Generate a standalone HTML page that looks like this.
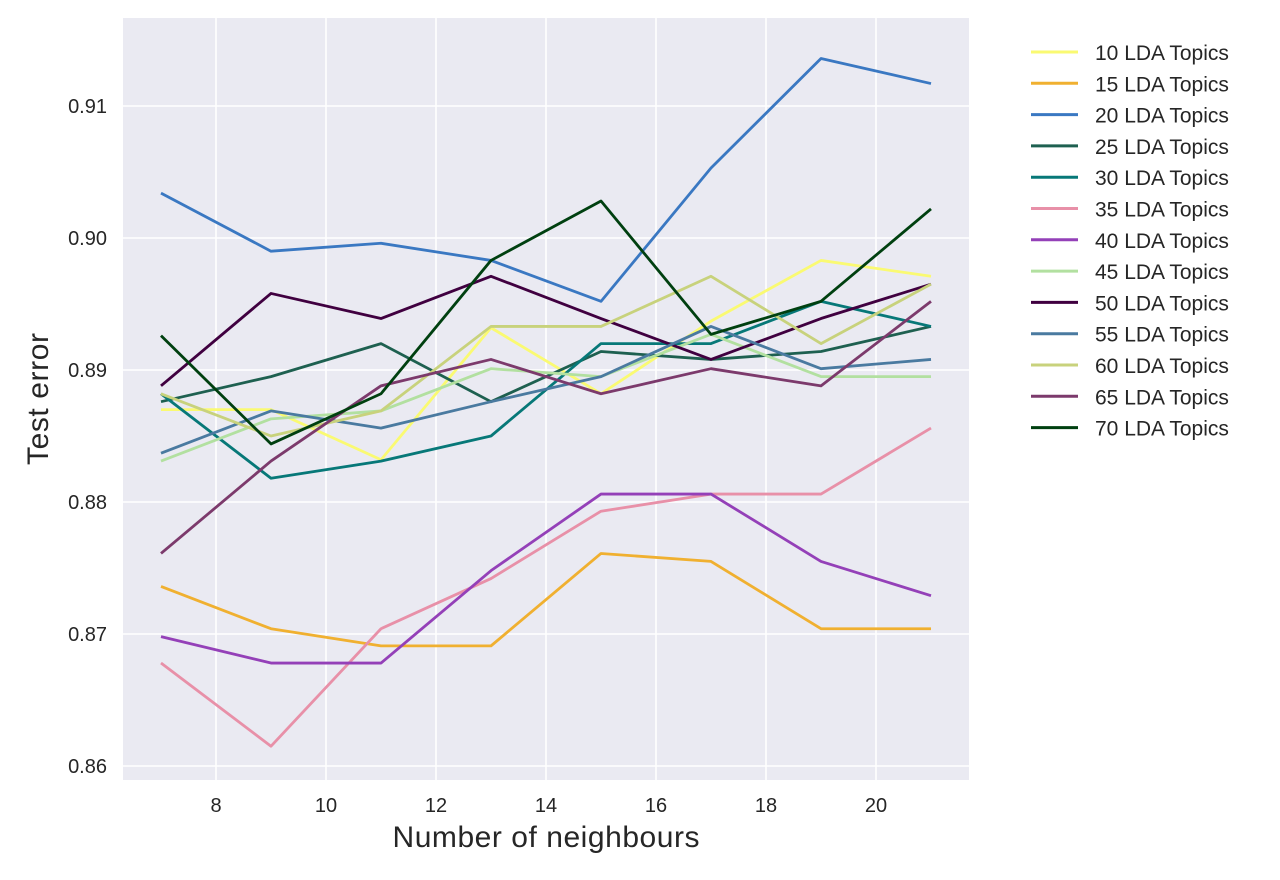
<!DOCTYPE html>
<html><head><meta charset="utf-8"><style>
body{margin:0;background:#fff;font-family:"Liberation Sans",sans-serif;}
svg{display:block}
</style></head><body>
<svg id="chart" width="1280" height="880" xmlns="http://www.w3.org/2000/svg">
<rect x="123" y="18" width="846" height="762" fill="#eaeaf2"/>
<g id="grid"></g><g id="lines"></g><g id="ticks"></g><g id="legend"></g>
<text x="546" y="847" text-anchor="middle" font-size="30" textLength="307" fill="#262626">Number of neighbours</text>
<text x="48" y="399" text-anchor="middle" font-size="30" textLength="132" fill="#262626" transform="rotate(-90 48 399)">Test error</text>
</svg>
<script>
const xValues=[7,9,11,13,15,17,19,21];
const xTicks=[8,10,12,14,16,18,20];
const yTicks=[0.86,0.87,0.88,0.89,0.90,0.91];
const yTickLabels=["0.86","0.87","0.88","0.89","0.90","0.91"];
const seriesNames=["10 LDA Topics","15 LDA Topics","20 LDA Topics","25 LDA Topics","30 LDA Topics","35 LDA Topics","40 LDA Topics","45 LDA Topics","50 LDA Topics","55 LDA Topics","60 LDA Topics","65 LDA Topics","70 LDA Topics"];
const seriesColors=["#fafa72","#f0b030","#3a78c2","#1e6050","#077878","#e890a8","#9440b8","#b2e0a0","#400040","#4a7aa0","#c8d27c","#7c3a6c","#004010"];
const s10=[0.8870,0.8870,0.8832,0.8932,0.8882,0.8937,0.8983,0.8971];
const s15=[0.8736,0.8704,0.8691,0.8691,0.8761,0.8755,0.8704,0.8704];
const s20=[0.9034,0.8990,0.8996,0.8983,0.8952,0.9053,0.9136,0.9117];
const s25=[0.8876,0.8895,0.8920,0.8876,0.8914,0.8908,0.8914,0.8933];
const s30=[0.8882,0.8818,0.8831,0.8850,0.8920,0.8920,0.8952,0.8933];
const s35=[0.8678,0.8615,0.8704,0.8742,0.8793,0.8806,0.8806,0.8856];
const s40=[0.8698,0.8678,0.8678,0.8748,0.8806,0.8806,0.8755,0.8729];
const s45=[0.8831,0.8863,0.8869,0.8901,0.8895,0.8927,0.8895,0.8895];
const s50=[0.8888,0.8958,0.8939,0.8971,0.8939,0.8908,0.8939,0.8965];
const s55=[0.8837,0.8869,0.8856,0.8876,0.8895,0.8933,0.8901,0.8908];
const s60=[0.8882,0.8850,0.8869,0.8933,0.8933,0.8971,0.8920,0.8965];
const s65=[0.8761,0.8831,0.8888,0.8908,0.8882,0.8901,0.8888,0.8952];
const s70=[0.8926,0.8844,0.8882,0.8983,0.9028,0.8927,0.8952,0.9022];
const allSeries=[s10,s15,s20,s25,s30,s35,s40,s45,s50,s55,s60,s65,s70];
const NS="http://www.w3.org/2000/svg";
const xs=v=>216+(v-8)*55;
const ys=v=>766-(v-0.86)*13200;
function mk(tag,attrs,parent){const e=document.createElementNS(NS,tag);for(const k in attrs)e.setAttribute(k,attrs[k]);document.getElementById(parent).appendChild(e);return e;}
xTicks.forEach(t=>{
  const l=mk('line',{x1:xs(t),x2:xs(t),y1:18,y2:780,stroke:'#fff','stroke-width':1.6},'grid');
  
  
  const tx=mk('text',{x:xs(t),y:812,'text-anchor':'middle','font-size':20,fill:'#262626'},'ticks');
  tx.textContent=t;
  
  
});
yTicks.forEach((t,i)=>{
  const l=mk('line',{x1:123,x2:969,y1:ys(t),y2:ys(t),stroke:'#fff','stroke-width':1.6},'grid');
  
  
  const tx=mk('text',{x:107,y:ys(t)+7,'text-anchor':'end','font-size':20,fill:'#262626'},'ticks');
  tx.textContent=yTickLabels[i];
  
  
});
allSeries.forEach((s,i)=>{
  const p=mk('polyline',{points:s.map((v,j)=>xs(xValues[j])+','+ys(v)).join(' '),fill:'none',stroke:seriesColors[i],'stroke-width':2.8,'stroke-linejoin':'round'},'lines');
  
  
  const y=52+i*31.3;
  const ll=mk('line',{x1:1031,x2:1078,y1:y,y2:y,stroke:seriesColors[i],'stroke-width':3},'legend');
  
  
  const lt=mk('text',{x:1095,y:y+8,'font-size':21,fill:'#262626'},'legend');
  lt.textContent=seriesNames[i];
  
  
});
</script>
</body></html>
